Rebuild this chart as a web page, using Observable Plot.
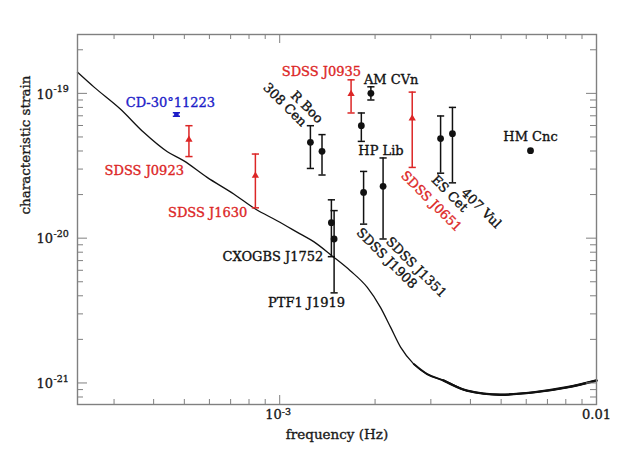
<!DOCTYPE html>
<html>
<head>
<meta charset="utf-8">
<script src="https://cdn.jsdelivr.net/npm/d3@7"></script>
<script src="https://cdn.jsdelivr.net/npm/@observablehq/plot@0.6"></script>
<style>
  html, body { margin: 0; padding: 0; background: #fff; }
</style>
</head>
<body>
<div id="chart"></div>
<script>
// ---------- data ----------
const sourceNames = ["CD-30°11223", "SDSS J0923", "SDSS J1630", "308 Cen", "R Boo", "SDSS J0935",
  "AM CVn", "HP Lib", "SDSS J1908", "SDSS J1351", "CXOGBS J1752", "PTF1 J1919",
  "SDSS J0651", "ES Cet", "407 Vul", "HM Cnc"];
const sourceGroup = ["sdB", "detached", "detached", "amcvn", "amcvn", "detached",
  "amcvn", "amcvn", "amcvn", "amcvn", "amcvn", "amcvn",
  "detached", "amcvn", "amcvn", "amcvn"];
const sourceFreq = [4.72e-4, 5.17e-4, 8.38e-4, 1.25e-3, 1.36e-3, 1.68e-3,
  1.94e-3, 1.81e-3, 1.84e-3, 2.12e-3, 1.456e-3, 1.485e-3,
  2.62e-3, 3.22e-3, 3.51e-3, 6.19e-3];
const sourceStrain = [7.13e-20, 4.79e-20, 2.70e-20, 4.59e-20, 3.98e-20, 9.9e-20,
  1.0e-19, 5.98e-20, 2.07e-20, 2.28e-20, 1.28e-20, 9.87e-21,
  6.72e-20, 4.87e-20, 5.27e-20, 4.02e-20];
const strainLow = [6.95e-20, 3.66e-20, 1.62e-20, 3.03e-20, 2.73e-20, 7.32e-20,
  9.0e-20, 4.66e-20, 1.25e-20, 9.87e-21, 7.45e-21, 4.19e-21,
  3.08e-20, 2.81e-20, 2.41e-20, null];
const strainHigh = [7.35e-20, 5.98e-20, 3.81e-20, 5.98e-20, 5.19e-20, 1.24e-19,
  1.11e-19, 7.32e-20, 2.89e-20, 3.58e-20, 1.84e-20, 1.55e-20,
  1.02e-19, 6.98e-20, 8.0e-20, null];

// sensitivity curve
const sensFreq = [2.30e-4, 2.60e-4, 3.14e-4, 3.72e-4, 4.42e-4, 4.97e-4, 5.90e-4, 7.16e-4,
  8.38e-4, 9.81e-4, 1.16e-3, 1.28e-3, 1.46e-3, 1.67e-3, 1.89e-3, 2.08e-3, 2.24e-3,
  2.41e-3, 2.65e-3, 2.92e-3, 3.29e-3, 3.90e-3, 4.97e-3, 6.32e-3, 8.07e-3, 1.0e-2];
const sensStrain = [1.40e-19, 1.10e-19, 7.8e-20, 5.38e-20, 3.95e-20, 3.43e-20, 2.63e-20, 2.02e-20,
  1.59e-20, 1.32e-20, 1.07e-20, 9.46e-21, 7.57e-21, 5.96e-21, 4.57e-21, 3.33e-21, 2.42e-21,
  1.76e-21, 1.35e-21, 1.15e-21, 1.04e-21, 8.85e-22, 8.30e-22, 8.61e-22, 9.33e-22, 1.04e-21];

// ticks
const xMajor = [1e-3, 1e-2];
const xMajorLabels = ["10^-3", "0.01"];
const xMinor = [3e-4, 4e-4, 5e-4, 6e-4, 7e-4, 8e-4, 9e-4, 2e-3, 3e-3, 4e-3, 5e-3, 6e-3, 7e-3, 8e-3, 9e-3];
const yMajor = [1e-19, 1e-20, 1e-21];
const yMajorLabels = ["10^-19", "10^-20", "10^-21"];
const yMinor = [8e-22, 9e-22, 2e-21, 3e-21, 4e-21, 5e-21, 6e-21, 7e-21, 8e-21, 9e-21,
  2e-20, 3e-20, 4e-20, 5e-20, 6e-20, 7e-20, 8e-20, 9e-20, 2e-19];

const xTitle = "frequency (Hz)";
const yTitle = "characteristic strain";

// ---------- layout / style (not data) ----------
const labelLayout = {
  "CD-30°11223": {dx: -6, dy: -12, anchor: "middle", rotate: 0},
  "SDSS J0923": {dx: -5, dy: 31, anchor: "end", rotate: 0},
  "SDSS J1630": {dx: -8, dy: 37, anchor: "end", rotate: 0},
  "308 Cen": {dx: -45, dy: -57, anchor: "start", rotate: 45},
  "R Boo": {dx: -29, dy: -58, anchor: "start", rotate: 45},
  "SDSS J0935": {dx: 10, dy: -22, anchor: "end", rotate: 0},
  "AM CVn": {dx: -7, dy: -14, anchor: "start", rotate: 0},
  "HP Lib": {dx: -3, dy: 25, anchor: "start", rotate: 0},
  "SDSS J1908": {dx: -5, dy: 38, anchor: "start", rotate: 45},
  "SDSS J1351": {dx: 5, dy: 53, anchor: "start", rotate: 45},
  "CXOGBS J1752": {dx: -8, dy: 34, anchor: "end", rotate: 0},
  "PTF1 J1919": {dx: 11, dy: 64, anchor: "end", rotate: 0},
  "SDSS J0651": {dx: -9, dy: 55, anchor: "start", rotate: 45},
  "ES Cet": {dx: -7, dy: 39, anchor: "start", rotate: 45},
  "407 Vul": {dx: 11, dy: 57, anchor: "start", rotate: 45},
  "HM Cnc": {dx: 0, dy: -14, anchor: "middle", rotate: 0}
};
const groupColor = {amcvn: "#111111", detached: "#dc2626", sdB: "#1d1dc8"};
const font = "DejaVu Serif";
const axisGray = "#808080";
const ink = "#1a1a1a";

const W = 640, H = 461, mL = 77, mR = 44, mT = 34, mB = 57;
const pw = W - mL - mR, ph = H - mT - mB;

const rows = sourceNames.map((name, i) => ({
  name, g: sourceGroup[i], f: sourceFreq[i], h: sourceStrain[i],
  lo: strainLow[i], hi: strainHigh[i], color: groupColor[sourceGroup[i]]
}));
const withBars = rows.filter(d => d.lo != null);
const sens = sensFreq.map((f, i) => ({f, h: sensStrain[i]}));

const capSymbol = {
  draw(ctx, size) {
    const w = Math.sqrt(size / Math.PI);
    ctx.moveTo(-w, 0); ctx.lineTo(w, 0);
  }
};

const splitLabel = s => { const p = s.split("^"); return {base: p[0], exp: p[1] || null}; };
const xl = xMajor.map((v, i) => ({v, ...splitLabel(xMajorLabels[i])}));
const yl = yMajor.map((v, i) => ({v, ...splitLabel(yMajorLabels[i])}));

const textStyle = (color, size) => ({fill: color, stroke: color, strokeWidth: 0.35, fontSize: size});

const marks = [
  // sensitivity curve (thicker where the detector noise makes it ragged)
  Plot.line(sens, {x: "f", y: "h", stroke: "#111", strokeWidth: 1.3, curve: "monotone-x"}),
  Plot.line(sens.filter(d => d.f >= 2.6e-3), {x: "f", y: "h", stroke: "#111", strokeWidth: 1.9, strokeLinecap: "round", curve: "monotone-x"}),
  Plot.line(sens.filter(d => d.f >= 3.2e-3), {x: "f", y: "h", stroke: "#111", strokeWidth: 2.5, strokeLinecap: "round", curve: "monotone-x"}),
  // error bars
  Plot.ruleX(withBars, {x: "f", y1: "lo", y2: "hi", stroke: "color", strokeWidth: 1.5}),
  Plot.dot(withBars, {x: "f", y: "hi", symbol: capSymbol, r: 3.6, stroke: "color", fill: "none", strokeWidth: 1.5}),
  Plot.dot(withBars, {x: "f", y: "lo", symbol: capSymbol, r: 3.6, stroke: "color", fill: "none", strokeWidth: 1.5}),
  // markers
  Plot.dot(rows.filter(d => d.g === "amcvn"), {x: "f", y: "h", r: 3.4, fill: "color", stroke: null}),
  Plot.dot(rows.filter(d => d.g === "detached"), {x: "f", y: "h", symbol: "triangle", r: 2.7, fill: "color", stroke: null}),
  Plot.dot(rows.filter(d => d.g === "sdB"), {x: "f", y: "h", symbol: "square", r: 2.6, fill: "color", stroke: null}),
  // inward ticks, all four sides
  Plot.tickX(xMinor, {x: d => d, insetTop: ph - 5, stroke: axisGray}),
  Plot.tickX(xMinor, {x: d => d, insetBottom: ph - 5, stroke: axisGray}),
  Plot.tickX(xMajor, {x: d => d, insetTop: ph - 9, stroke: axisGray}),
  Plot.tickX(xMajor, {x: d => d, insetBottom: ph - 9, stroke: axisGray}),
  Plot.tickY(yMinor, {y: d => d, insetRight: pw - 6, stroke: axisGray}),
  Plot.tickY(yMinor, {y: d => d, insetLeft: pw - 6, stroke: axisGray}),
  Plot.tickY(yMajor, {y: d => d, insetRight: pw - 10, stroke: axisGray}),
  Plot.tickY(yMajor, {y: d => d, insetLeft: pw - 10, stroke: axisGray}),
  Plot.frame({stroke: axisGray, strokeWidth: 1.4}),
  // x tick labels
  Plot.text(xl.filter(d => d.exp), {x: "v", frameAnchor: "bottom", text: "base", textAnchor: "end", dx: 2, dy: 14, ...textStyle(ink, 13)}),
  Plot.text(xl.filter(d => d.exp), {x: "v", frameAnchor: "bottom", text: "exp", textAnchor: "start", dx: 2, dy: 10, ...textStyle(ink, 9.5)}),
  Plot.text(xl.filter(d => !d.exp), {x: "v", frameAnchor: "bottom", text: "base", textAnchor: "middle", dy: 14, ...textStyle(ink, 13)}),
  // y tick labels
  Plot.text(yl, {y: "v", frameAnchor: "left", text: "base", textAnchor: "start", dx: -41, dy: 1, ...textStyle(ink, 13)}),
  Plot.text(yl, {y: "v", frameAnchor: "left", text: "exp", textAnchor: "start", dx: -24, dy: -4, ...textStyle(ink, 9.5)}),
  // axis titles
  Plot.text([xTitle], {frameAnchor: "bottom", text: d => d, dy: 34, ...textStyle(ink, 13.5)}),
  Plot.text([yTitle], {frameAnchor: "left", text: d => d, rotate: -90, dx: -52, dy: -5, ...textStyle(ink, 13.5)}),
  // source labels
  ...rows.map(r => {
    const L = labelLayout[r.name];
    return Plot.text([r], {x: "f", y: "h", text: "name", dx: L.dx, dy: L.dy, rotate: L.rotate,
      textAnchor: L.anchor, ...textStyle(r.color, 13)});
  })
];

const chart = Plot.plot({
  width: W, height: H,
  marginLeft: mL, marginRight: mR, marginTop: mT, marginBottom: mB,
  x: {type: "log", domain: [2.30e-4, 1e-2], axis: null},
  y: {type: "log", domain: [7.1e-22, 2.55e-19], axis: null},
  color: {type: "identity"},
  style: {fontFamily: font, background: "#fff", overflow: "visible"},
  marks
});
document.getElementById("chart").appendChild(chart);
</script>
</body>
</html>
